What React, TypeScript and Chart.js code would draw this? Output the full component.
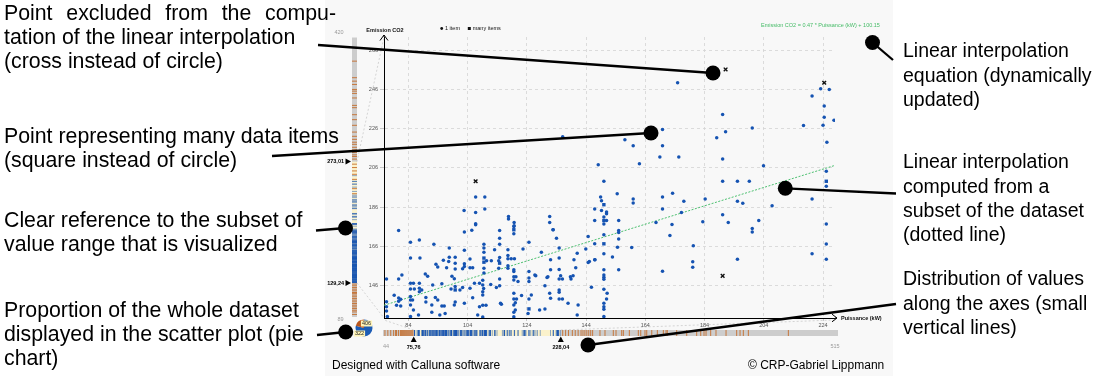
import React, { useEffect, useRef } from 'react';
import { Chart, registerables } from 'chart.js';
Chart.register(...registerables);

const FONT = '"Liberation Sans", Arial, Helvetica, sans-serif';

// Visible subset of the value ranges
const X_RANGE = [75.76, 228.04];
const Y_RANGE = [129.24, 273.01];
// Whole dataset ranges
const X_ALL = [44, 515];
const Y_ALL = [89, 420];

const xTickValues = [84, 104, 124, 144, 164, 184, 204, 224];
const yTickValues = [146, 166, 186, 206, 226, 246, 266];

// Single items (power kW, CO2 emission)
const pointPower = [
  80.7, 102.9, 105.4, 106.7, 84.7, 87.7, 92.6, 97.8, 102.9, 109.5, 109.5, 109.5, 109.5, 109.5, 110.4, 112,
  84.7, 87.9, 97.8, 99.8, 95.8, 93.3, 93.9, 97.6, 96.9, 99.8, 99.8, 102.9, 102.9, 102.3, 104.8, 104.8, 105.7,
  89.7, 90.5, 98.7, 99.5, 76.6, 80.7, 81.8, 84.7, 85.7, 87.7, 92.2, 95.3, 98.4, 101.4, 102.3, 99.8, 104.8,
  106.3, 108, 109.1, 109.1, 109.4, 109.1, 109.1, 111.8, 84.7, 86, 87.7, 87.7, 88.5, 79.2, 80.7, 80.7, 81.4,
  80, 81.4, 76.6, 76.6, 76.6, 76.9, 84.7, 84.7, 85.4, 84.7, 85.7, 87.4, 84.7, 89.9, 89.9, 91.9, 93.1, 93.9,
  95.3, 96.1, 94.6, 96.4, 91.9, 99.5, 99.8, 102.9, 105.7, 108, 109.1, 110.2, 107.4, 109.1,
  114.8, 119.6, 119.6, 132.9, 114.8, 114.8, 124.7, 134, 113.1, 117.6, 122.7, 144.7, 143.9, 134.9, 128.9, 141,
  114.8, 114.5, 114.5, 117.6, 117.6, 118.7, 119.8, 117.6, 117.6, 119.6, 119.6, 132, 134.9, 139.9, 147, 145.1,
  140.5, 132, 134.9, 124.7, 114.8, 113.7, 114.8, 119.6, 119.6, 120.3, 121, 124.7, 124.7, 127, 130.8, 134.9,
  136, 135.4, 138.7, 138.9, 130.1, 145.8, 119.6, 119.6, 119.6, 120.5, 122.2, 125.5, 124.7, 115.4, 131.7, 132,
  134.9, 134.9, 134.9, 136, 130.1, 119.6, 119.6,
  126.7, 131.1, 139.6, 137.9, 141.3, 141, 120.1, 120.1, 124.4, 128.3, 115.1,
  106.7, 109.8, 109.8, 106.7, 102.8, 106.7, 117.8, 117.8, 119.7, 119.7, 131.7, 131.7, 132.8, 136.1,
  157.1, 159.9, 169.8, 168.9, 175.3, 148.1, 162, 190.1, 203.9, 225.3, 225.1, 225.1, 150, 190.1, 195.1, 199.1,
  148.9, 149.2, 154.5, 159.9, 159.9, 169.8, 173.2, 177, 169.8, 184.2, 195.1, 196.9, 206.8, 220.3,
  146.9, 149.2, 150.9, 150.9, 150, 150.9, 146.9, 150, 155, 155, 155, 155, 154.6, 150, 150, 146.9, 146.9, 144.7,
  152.9, 159.4, 167.6, 173, 172.3, 176.2, 183.4, 180.2, 180, 180, 190.1, 192, 200.1, 200.1, 202.3, 195.1,
  225.1, 225.1, 225.1, 220.3, 169.8,
  174.9, 190.1, 188.1, 191.1, 200.1, 169.8, 223.2, 226.1, 220.3, 224.4, 224.4, 224, 227.7, 217.4,
  150, 150, 150, 150, 155, 150, 151.1, 150.9, 150, 150, 150, 150,
];
const pointCO2 = [
  174, 173.2, 174.2, 177, 168, 169.1, 167, 165, 163.9, 167, 165, 162.9, 154.7, 152.2, 158.5, 158.5,
  159.9, 159.9, 160.3, 160.3, 158.8, 156.7, 155.3, 158.2, 154.9, 157.3, 154.3, 157, 155.6, 154.5, 159.4, 154.9, 154.9,
  151.8, 150.6, 150.6, 149.3, 149.2, 149.2, 151.3, 147, 147, 147, 146.1, 146.8, 144.1, 143.6, 144.8, 145.4, 144.5,
  147, 147, 148.5, 146.1, 144.3, 142.7, 141, 146.4, 144.1, 144.1, 144.5, 142.7, 143.6, 140.9, 139.5, 137.8, 138.8,
  135.8, 135.4, 137.6, 135, 132.8, 130, 140.2, 138.5, 138.5, 135.9, 133.3, 130.8, 130, 139.7, 137.4, 135.9, 139.7, 138.5,
  135.4, 135.4, 130.8, 131.6, 132.2, 135.9, 137.4, 136.8, 139.6, 135, 135.8, 135.8, 130.8, 129.8,
  174, 176.1, 172.3, 174.4, 170.1, 167, 168, 170.1, 164.1, 164.1, 164.6, 170.9, 164.6, 165, 162.9, 162.4,
  160.2, 154.7, 158.5, 161.2, 159.5, 159.5, 159.5, 154.7, 156, 153.9, 153, 159.1, 159.9, 159.1, 159.1, 158.2,
  155, 153.9, 154, 153, 149.2, 144.8, 145.8, 150.4, 148.7, 150.4, 147.9, 149.7, 147.9, 150.9, 149.9, 149.2,
  149.2, 150.9, 150.4, 149.2, 145.8, 145, 141.9, 139, 135.9, 139, 140.7, 141, 139, 136.3, 141.9, 139.3,
  143.6, 142.4, 139, 139, 133.9, 132.2, 129.9,
  151.3, 150.4, 150.8, 136.8, 135.9, 130.8, 137.1, 133.3, 131.6, 133.3, 136.8,
  191.1, 191.1, 185, 183.2, 184.3, 177.4, 181.2, 179.9, 178.1, 176.4, 181.2, 178.1, 174.4, 222,
  220.5, 217.4, 217.4, 211.6, 211.6, 207.7, 208.2, 210.6, 207.2, 219.2, 204.3, 196.6, 199.2, 199.2, 199.2, 199.2,
  191.1, 189.2, 192.8, 190.1, 188.1, 191.1, 193.1, 189, 185, 190.1, 189, 188, 186.7, 190.1,
  185, 184.3, 183.5, 182.6, 180.9, 179.1, 179.1, 177.3, 179.1, 174, 173, 169.6, 165.5, 171.8, 162.1, 167.2, 159, 157.6,
  160.4, 165.3, 178.1, 177.1, 171.4, 183.2, 178.5, 166.2, 158, 155.2, 182.1, 178.1, 175, 173.2, 179.1, 159.3,
  177.3, 167.1, 159.3, 162.1, 153.2,
  249.6, 233.3, 221.4, 224.5, 226.4, 225.7, 246.5, 246.2, 242.8, 237.7, 231.9, 227.8, 230.4, 227.7,
  153.9, 151.3, 150.1, 149.1, 153.9, 144, 141.9, 139, 136.8, 135, 133.7, 130,
];

// Points standing for many data items (squares)
const manyPower = [109.5, 109.5, 119.6, 150, 225.1, 124.7, 114.8, 99.8, 150, 150];
const manyCO2 = [159.9, 157.8, 174.4, 167.2, 199.2, 133.9, 157.3, 143.6, 179.1, 187.2];

// Points excluded from the interpolation (crosses)
const excludedPower = [106.7, 191.1, 224.4, 190.1];
const excludedCO2 = [199.2, 256.4, 249.6, 150.8];

// Linear interpolation end points
const fitPower = [75.76, 228.04];
const fitCO2 = [135.76, 207.33];
const equationText = 'Emission CO2 = 0.47 * Puissance (kW) + 100.15';

// Values of items not displayed (rug lines in orange)
const yRugOutside = [
  92, 95, 97, 99, 101, 103, 105, 107, 109, 111, 113, 115, 117, 118, 120, 122, 124, 126, 128,
  235, 241, 252, 258, 262, 266, 270, 276, 279, 281, 284, 287, 290, 293.5, 296, 299.4, 303, 308,
  316, 322.7, 328.6, 336.9, 339.6, 348.4, 353.8, 356.5, 358.5, 364.4, 368.3, 372.4, 392,
];
const xRugOutside = [
  46, 49, 52, 55, 57, 58, 60, 62, 63, 64, 65, 66, 67, 68, 69, 70, 71, 72, 73, 74, 75,
  230, 233, 236, 240, 243, 246, 249, 251, 253, 255, 257, 259, 261, 268.6, 273.8, 282.4, 285.2,
  291.1, 292.8, 299, 308.3, 310.8, 315.2, 317, 322.2, 328, 334.2, 337, 338.3, 348, 358.4, 368.7,
  372.9, 376.3, 378.4, 383.2, 388.7, 399.1, 410.1, 413.6, 417, 422.2, 463.6,
];

// Pie: displayed items vs all items
const pieCounts = [322, 406];

const leftNotes = [
  { lines: ['Point excluded from the compu-', 'tation of the linear interpolation', '(cross instead of circle)'], y: 14, justifyFirst: true },
  { lines: ['Point representing many data items', '(square instead of circle)'], y: 137, justifyFirst: false },
  { lines: ['Clear reference to the subset of', 'value range that is visualized'], y: 221, justifyFirst: false },
  { lines: ['Proportion of the whole dataset', 'displayed in the scatter plot (pie', 'chart)'], y: 311, justifyFirst: false },
];
const rightNotes = [
  { lines: ['Linear interpolation', 'equation (dynamically', 'updated)'], y: 52 },
  { lines: ['Linear interpolation', 'computed from a', 'subset of the dataset', '(dotted line)'], y: 163 },
  { lines: ['Distribution of values', 'along the axes (small', 'vertical lines)'], y: 280 },
];
// pointer lines: [fromX, fromY, circleX, circleY]
const pointers = [
  [318, 45, 713, 73],
  [272, 156, 651, 133],
  [316, 230.5, 345.5, 228],
  [317, 335, 345.7, 332],
  [893, 60, 872.5, 42.5],
  [896, 193.5, 785.3, 188.3],
  [896, 304, 588, 345],
];

const fmt = (v: number) => v.toFixed(2).replace('.', ',');

const overlay = {
  id: 'overlay',
  beforeDraw(chart: any) {
    const ctx = chart.ctx;
    ctx.save();
    ctx.fillStyle = '#ffffff';
    ctx.fillRect(0, 0, chart.width, chart.height);
    ctx.fillStyle = '#f8f8f8';
    ctx.fillRect(325, 0, 568, chart.height);
    ctx.restore();
  },
  afterDraw(chart: any) {
    const ctx = chart.ctx;
    const ca = chart.chartArea;
    ctx.save();

    // ---- left strip (CO2 distribution)
    const sx = 352, sw = 5, sTop = 37.5, sBot = 317;
    const vy = (v: number) => sTop + (Y_ALL[1] - v) / (Y_ALL[1] - Y_ALL[0]) * (sBot - sTop);
    ctx.fillStyle = '#cdcdcd';
    ctx.fillRect(sx, sTop, sw, sBot - sTop);
    ctx.fillStyle = '#fbf2cc';
    ctx.fillRect(sx, vy(Y_RANGE[1]), sw, vy(Y_RANGE[0]) - vy(Y_RANGE[1]));
    ctx.fillStyle = 'rgba(196,104,36,0.85)';
    yRugOutside.forEach((v) => ctx.fillRect(sx, vy(v) - 0.5, sw, 1));
    ctx.fillStyle = 'rgba(28,88,180,0.5)';
    [...pointCO2, ...manyCO2, ...excludedCO2].forEach((v) => ctx.fillRect(sx, vy(v) - 0.5, sw, 1));

    // ---- bottom strip (power distribution)
    const bx0 = 383, bx1 = 838, bTop = 330, bH = 6;
    const vx = (v: number) => bx0 + (v - X_ALL[0]) / (X_ALL[1] - X_ALL[0]) * (bx1 - bx0);
    ctx.fillStyle = '#cdcdcd';
    ctx.fillRect(bx0, bTop, bx1 - bx0, bH);
    ctx.fillStyle = '#fbf2cc';
    ctx.fillRect(vx(X_RANGE[0]), bTop, vx(X_RANGE[1]) - vx(X_RANGE[0]), bH);
    ctx.fillStyle = 'rgba(196,104,36,0.85)';
    xRugOutside.forEach((v) => ctx.fillRect(vx(v) - 0.5, bTop, 1, bH));
    ctx.fillStyle = 'rgba(28,88,180,0.5)';
    [...pointPower, ...manyPower, ...excludedPower].forEach((v) => ctx.fillRect(vx(v) - 0.5, bTop, 1, bH));

    // ---- faint connectors
    ctx.strokeStyle = 'rgba(160,160,160,0.6)';
    ctx.lineWidth = 0.7;
    ctx.setLineDash([2, 2]);
    const seg = (a: number, b: number, c: number, d: number) => {
      ctx.beginPath(); ctx.moveTo(a, b); ctx.lineTo(c, d); ctx.stroke();
    };
    seg(sx + sw, vy(Y_RANGE[1]), ca.left, ca.top);
    seg(sx + sw, vy(Y_RANGE[0]), ca.left, ca.bottom);
    seg(vx(X_RANGE[0]), bTop, ca.left, ca.bottom + 2);
    seg(vx(X_RANGE[1]), bTop, ca.right, ca.bottom + 2);
    ctx.setLineDash([]);

    // ---- range markers
    ctx.fillStyle = '#000';
    [Y_RANGE[1], Y_RANGE[0]].forEach((v) => {
      const y = vy(v);
      ctx.beginPath();
      ctx.moveTo(345.5, y - 3); ctx.lineTo(351, y); ctx.lineTo(345.5, y + 3); ctx.closePath(); ctx.fill();
      ctx.font = `bold 5.5px ${FONT}`;
      ctx.textAlign = 'right'; ctx.textBaseline = 'middle';
      ctx.fillText(fmt(v), 344, y);
    });
    [X_RANGE[0], X_RANGE[1]].forEach((v) => {
      const x = vx(v);
      ctx.beginPath();
      ctx.moveTo(x - 3, 342); ctx.lineTo(x, 336.5); ctx.lineTo(x + 3, 342); ctx.closePath(); ctx.fill();
      ctx.font = `bold 5.5px ${FONT}`;
      ctx.textAlign = 'center'; ctx.textBaseline = 'middle';
      ctx.fillText(fmt(v), x, 347);
    });
    ctx.fillStyle = '#9a9a9a';
    ctx.font = `5.5px ${FONT}`;
    ctx.textAlign = 'center'; ctx.textBaseline = 'middle';
    ctx.fillText(String(Y_ALL[1]), 339, 32);
    ctx.fillText(String(Y_ALL[0]), 340.5, 319);
    ctx.fillText(String(X_ALL[0]), 386, 346);
    ctx.fillText(String(X_ALL[1]), 835, 346);

    // ---- pie
    const pcx = 364, pcy = 328, pr = 8.5;
    const share = pieCounts[0] / pieCounts[1];
    const start = -Math.PI / 2;
    ctx.fillStyle = '#1c5cb5';
    ctx.beginPath(); ctx.moveTo(pcx, pcy);
    ctx.arc(pcx, pcy, pr, start, start + share * Math.PI * 2); ctx.closePath(); ctx.fill();
    ctx.fillStyle = '#b8561c';
    ctx.beginPath(); ctx.moveTo(pcx, pcy);
    ctx.arc(pcx, pcy, pr, start + share * Math.PI * 2, start + Math.PI * 2); ctx.closePath(); ctx.fill();
    ctx.font = `5.5px ${FONT}`;
    const tag = (t: string, x: number, y: number) => {
      const w = ctx.measureText(t).width + 2;
      ctx.fillStyle = '#fff4b8';
      ctx.fillRect(x - w / 2, y - 3, w, 6);
      ctx.fillStyle = '#222';
      ctx.fillText(t, x, y + 0.3);
    };
    tag(String(pieCounts[1]), 366.5, 323.5);
    tag(String(pieCounts[0]), 359.5, 333.5);

    // ---- axis titles, legend, equation
    ctx.fillStyle = '#111';
    ctx.font = `bold 5.5px ${FONT}`;
    ctx.textAlign = 'center';
    ctx.fillText('Emission CO2', ca.left + 1, 30);
    ctx.textAlign = 'left';
    ctx.fillText('Puissance (kW)', 841, ca.bottom);
    ctx.font = `5.5px ${FONT}`;
    ctx.beginPath(); ctx.arc(441.7, 28.5, 1.4, 0, Math.PI * 2); ctx.fill();
    ctx.fillText('1 item', 445, 28.5);
    ctx.fillRect(467.8, 27, 3, 3);
    ctx.fillText('many items', 472.7, 28.5);
    ctx.fillStyle = '#44bb66';
    ctx.fillText(equationText, 761, 25);

    // ---- axis arrows
    ctx.strokeStyle = '#000';
    ctx.lineWidth = 1;
    ctx.beginPath();
    ctx.moveTo(ca.left, ca.top); ctx.lineTo(ca.left, 35);
    ctx.moveTo(ca.left - 4, 40.5); ctx.lineTo(ca.left, 35); ctx.lineTo(ca.left + 4, 40.5);
    ctx.moveTo(ca.right, ca.bottom); ctx.lineTo(837, ca.bottom);
    ctx.moveTo(832, ca.bottom - 3.8); ctx.lineTo(837, ca.bottom); ctx.lineTo(832, ca.bottom + 3.8);
    ctx.stroke();

    // ---- annotations
    ctx.strokeStyle = '#000';
    ctx.fillStyle = '#000';
    ctx.lineWidth = 2.3;
    pointers.forEach(([a, b, c, d]) => {
      ctx.beginPath(); ctx.moveTo(a, b); ctx.lineTo(c, d); ctx.stroke();
      ctx.beginPath(); ctx.arc(c, d, 7.5, 0, Math.PI * 2); ctx.fill();
    });
    ctx.textBaseline = 'middle';
    ctx.textAlign = 'left';
    ctx.font = `21.3px ${FONT}`;
    const justified = (text: string, x0: number, x1: number, y: number) => {
      const words = text.split(' ');
      const wordsW = words.reduce((s, w) => s + ctx.measureText(w).width, 0);
      const gap = (x1 - x0 - wordsW) / (words.length - 1);
      let x = x0;
      words.forEach((w) => { ctx.fillText(w, x, y); x += ctx.measureText(w).width + gap; });
    };
    leftNotes.forEach((n) => n.lines.forEach((l, i) => {
      if (i === 0 && n.justifyFirst) justified(l, 4, 336, n.y);
      else ctx.fillText(l, 4, n.y + i * 24);
    }));
    ctx.font = `19.5px ${FONT}`;
    rightNotes.forEach((n) => n.lines.forEach((l, i) => ctx.fillText(l, 903, n.y + i * 24.3)));

    ctx.font = `12px ${FONT}`;
    ctx.fillText('Designed with Calluna software', 332, 366);
    ctx.fillText('\u00A9 CRP-Gabriel Lippmann', 748, 366);
    ctx.restore();
  },
};

export default function App() {
  const ref = useRef<HTMLCanvasElement>(null);
  useEffect(() => {
    document.body.style.margin = '0';
    const tickFont = { size: 5.5, family: FONT };
    const chart = new Chart(ref.current as HTMLCanvasElement, {
      type: 'scatter',
      data: {
        datasets: [
          {
            label: 'excluded',
            data: excludedPower.map((x, i) => ({ x, y: excludedCO2[i] })),
            pointStyle: 'crossRot',
            pointRadius: 2.6,
            borderColor: '#111',
            backgroundColor: '#111',
            borderWidth: 1.4,
          },
          {
            label: 'many items',
            data: manyPower.map((x, i) => ({ x, y: manyCO2[i] })),
            pointStyle: 'rect',
            pointRadius: 2.4,
            backgroundColor: '#1553b2',
            borderColor: '#1553b2',
            borderWidth: 0,
          },
          {
            label: '1 item',
            data: pointPower.map((x, i) => ({ x, y: pointCO2[i] })),
            pointStyle: 'circle',
            pointRadius: 1.75,
            backgroundColor: '#1553b2',
            borderColor: '#1553b2',
            borderWidth: 0,
          },
          {
            label: 'fit',
            data: fitPower.map((x, i) => ({ x, y: fitCO2[i] })),
            showLine: true,
            pointRadius: 0,
            borderColor: '#4cc070',
            borderWidth: 1,
            borderDash: [2, 1.5],
          } as any,
        ],
      },
      options: {
        responsive: false,
        animation: false,
        events: [],
        layout: { padding: { left: 354, right: 275, top: 37, bottom: 44 } },
        plugins: { legend: { display: false }, tooltip: { enabled: false } },
        scales: {
          x: {
            type: 'linear',
            min: X_RANGE[0],
            max: X_RANGE[1],
            afterBuildTicks: (s: any) => { s.ticks = xTickValues.map((v) => ({ value: v })); },
            afterFit: (s: any) => { s.height = 14; },
            grid: { color: '#d4d4d4', lineWidth: 0.8, tickLength: 3, tickColor: '#bbb' },
            border: { display: true, color: '#000', width: 1, dash: [3, 3] },
            ticks: { font: tickFont, color: '#555', padding: 1, maxRotation: 0, autoSkip: false },
          },
          y: {
            type: 'linear',
            min: Y_RANGE[0],
            max: Y_RANGE[1],
            afterBuildTicks: (s: any) => { s.ticks = yTickValues.map((v) => ({ value: v })); },
            afterFit: (s: any) => { s.width = 30; },
            grid: { color: '#d4d4d4', lineWidth: 0.8, tickLength: 4, tickColor: '#bbb' },
            border: { display: true, color: '#000', width: 1, dash: [3, 3] },
            ticks: { font: tickFont, color: '#555', padding: 2, autoSkip: false },
          },
        },
      } as any,
      plugins: [overlay],
    });
    return () => chart.destroy();
  }, []);
  return (
    <div style={{ position: 'absolute', left: 0, top: 0, width: 1110, height: 376 }}>
      <canvas ref={ref} width={1110} height={376} style={{ display: 'block', width: 1110, height: 376 }} />
    </div>
  );
}
